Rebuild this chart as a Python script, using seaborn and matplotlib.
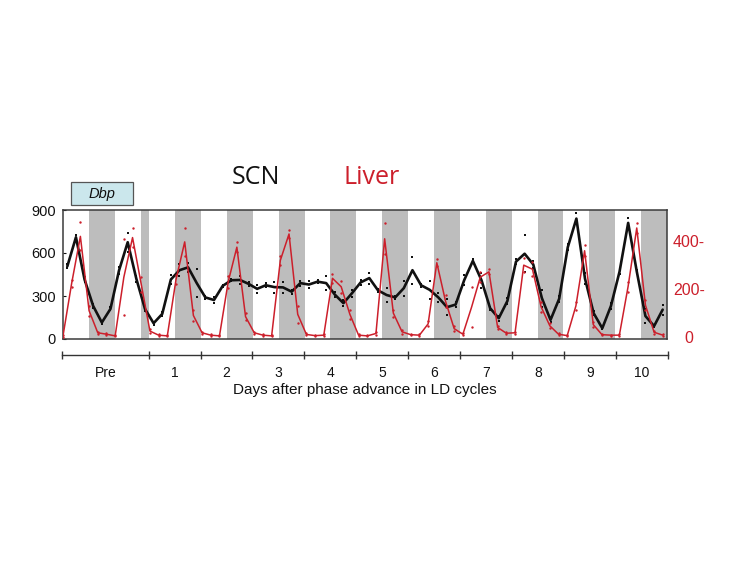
import numpy as np
import pandas as pd
import matplotlib
matplotlib.use("Agg")
import matplotlib.pyplot as plt
import seaborn as sns
from matplotlib.patches import Rectangle

# ---------------- data ----------------
scn_hours = np.arange(2, 280, 4)            # sampled every 4 h
scn_mean = [507, 710, 415, 230, 115, 210, 480, 675, 420, 210,
            110, 175, 415, 480, 500, 390, 290, 272, 370, 410,
            412, 385, 350, 375, 362, 360, 330, 390, 380, 400,
            390, 310, 250, 320, 395, 425, 340, 307, 290, 355,
            480, 375, 343, 290, 222, 240, 411, 545, 410, 215,
            145, 265, 540, 595, 520, 285, 133, 280, 640, 840,
            420, 180, 75, 230, 470, 810, 470, 160, 90, 205]
scn_spread = [14, 15, 20, 15, 10, 10, 25, 67, 20, 15,
              10, 15, 30, 43, 32, 95, 10, 20, 8, 8,
              28, 15, 29, 15, 38, 38, 15, 17, 27, 10,
              50, 18, 22, 25, 20, 38, 10, 47, 10, 52,
              93, 10, 64, 30, 55, 15, 35, 15, 53, 10,
              18, 20, 20, 130, 25, 60, 15, 20, 20, 40,
              38, 15, 8, 20, 15, 32, 10, 50, 5, 35]

liver_hours = np.arange(70) * 4.03
liver_mean = [5, 225, 420, 110, 18, 12, 5, 250, 415, 220,
              25, 8, 5, 240, 397, 90, 18, 8, 5, 230,
              375, 85, 18, 8, 5, 320, 430, 95, 11, 6,
              8, 245, 210, 95, 8, 5, 15, 410, 100, 22,
              10, 8, 55, 310, 150, 35, 12, 125, 250, 272,
              40, 16, 18, 300, 283, 126, 47, 12, 6, 130,
              360, 52, 10, 8, 8, 210, 455, 133, 20, 8]
liver_spread = [3, 15, 58, 20, 5, 3, 2, 157, 38, 30,
                8, 3, 2, 20, 58, 25, 5, 3, 2, 25,
                20, 15, 5, 3, 2, 20, 15, 35, 4, 2,
                3, 20, 25, 20, 3, 2, 5, 65, 15, 8,
                3, 3, 10, 15, 25, 10, 4, 82, 20, 10,
                8, 4, 5, 28, 30, 20, 10, 3, 2, 15,
                23, 10, 3, 2, 3, 20, 19, 20, 6, 3]

dark_start = [12, 36, 52, 76, 100, 124, 148, 172, 196, 220, 244, 268]
dark_end = [24, 40, 64, 88, 112, 136, 160, 184, 208, 232, 256, 280]
day_bounds = [0, 40, 64, 88, 112, 136, 160, 184, 208, 232, 256, 280]
day_centers = [20, 52, 76, 100, 124, 148, 172, 196, 220, 244, 268]
day_labels = ["Pre", "1", "2", "3", "4", "5", "6", "7", "8", "9", "10"]

scn_ticks = [0, 300, 600, 900]
liver_ticks = [0, 200, 400]
liver_ticklabels = ["0", "200-", "400-"]

# ---------------- frames ----------------
scn_df = pd.DataFrame({"hour": scn_hours, "value": scn_mean})
liver_df = pd.DataFrame({"hour": liver_hours, "value": liver_mean})
scn_pts = pd.DataFrame({
    "hour": np.concatenate([scn_hours, scn_hours]),
    "value": np.concatenate([np.array(scn_mean) + np.array(scn_spread),
                             np.array(scn_mean) - np.array(scn_spread)])})
liver_pts = pd.DataFrame({
    "hour": np.concatenate([liver_hours, liver_hours]),
    "value": np.concatenate([np.array(liver_mean) + np.array(liver_spread),
                             np.maximum(np.array(liver_mean) - np.array(liver_spread), 0)])})

sns.set_style("white")
plt.rcParams["font.family"] = ["Liberation Sans", "DejaVu Sans"]

RED = "#cc1f2b"
W, H = 733, 566
fig = plt.figure(figsize=(W / 100, H / 100), dpi=100)

def fx(px):
    return px / W

def fy(py):
    return 1 - py / H

ax = fig.add_axes([fx(63), fy(339), fx(667) - fx(63), fy(210) - fy(339)])
for s, e in zip(dark_start, dark_end):
    ax.axvspan(s, e, color="#bdbdbd", lw=0, zorder=0)

sns.lineplot(data=scn_df, x="hour", y="value", ax=ax, color="#111111",
             lw=1.9, zorder=4, legend=False)
sns.scatterplot(data=scn_pts, x="hour", y="value", ax=ax, color="#111111",
                marker="s", s=4, linewidth=0, zorder=5, legend=False)
ax.set_xlim(0, 280)
ax.set_ylim(0, 900)
ax.set_yticks(scn_ticks)
ax.set_yticklabels([str(t) for t in scn_ticks])
ax.set_xticks([])
ax.set_xlabel("")
ax.set_ylabel("")
ax.tick_params(axis="y", direction="in", length=2, width=0.8, pad=5,
               labelsize=10.5, colors="#111111", left=True)
for sp in ax.spines.values():
    sp.set_color("#3a3a3a")
    sp.set_linewidth(1.1)

ax2 = ax.twinx()
sns.lineplot(data=liver_df, x="hour", y="value", ax=ax2, color=RED,
             lw=1.1, zorder=3, legend=False)
sns.scatterplot(data=liver_pts, x="hour", y="value", ax=ax2, color=RED,
                marker="o", s=3, linewidth=0, zorder=3, legend=False)
ax2.set_ylim(-8, 530)
ax2.set_xlim(0, 280)
ax2.set_yticks(liver_ticks)
ax2.set_yticklabels(liver_ticklabels)
ax2.set_ylabel("")
ax2.tick_params(axis="y", length=0, pad=15.8, labelsize=11.5, labelcolor=RED)
for lab in ax2.get_yticklabels():
    lab.set_horizontalalignment("center")
for sp in ax2.spines.values():
    sp.set_visible(False)

# bottom day axis
axd = fig.add_axes([fx(62), fy(355), fx(668) - fx(62), 0.001])
axd.set_xlim(0, 280)
axd.set_ylim(0, 1)
for name in ["top", "left", "right"]:
    axd.spines[name].set_visible(False)
axd.spines["bottom"].set_color("#333333")
axd.spines["bottom"].set_linewidth(1.0)
axd.patch.set_alpha(0)
axd.set_yticks([])
axd.set_xticks(day_bounds)
axd.set_xticklabels([""] * len(day_bounds))
axd.tick_params(axis="x", which="major", direction="inout", length=6,
                width=1.0, colors="#333333", bottom=True)
axd.set_xticks(day_centers, minor=True)
axd.set_xticklabels(day_labels, minor=True)
axd.tick_params(axis="x", which="minor", length=0, pad=8, labelsize=10,
                labelcolor="#111111")
axd.set_xlabel("Days after phase advance in LD cycles", fontsize=11,
               color="#111111", labelpad=2)

# titles
fig.text(fx(256), fy(178), "SCN", fontsize=18, family=["Open Sans", "DejaVu Sans"],
         color="#111111", ha="center", va="center")
fig.text(fx(372), fy(178), "Liver", fontsize=18, family=["Open Sans", "DejaVu Sans"],
         color=RED, ha="center", va="center")

# Dbp box
fig.patches.append(Rectangle((fx(71), fy(205)), fx(133) - fx(71), fy(182) - fy(205),
                             transform=fig.transFigure, facecolor="#cbe7ec",
                             edgecolor="#555555", linewidth=0.9))
fig.text(fx(102), fy(194), "Dbp", fontsize=10.5, style="italic",
         color="#111111", ha="center", va="center")

fig.savefig("out.png", dpi=100)
